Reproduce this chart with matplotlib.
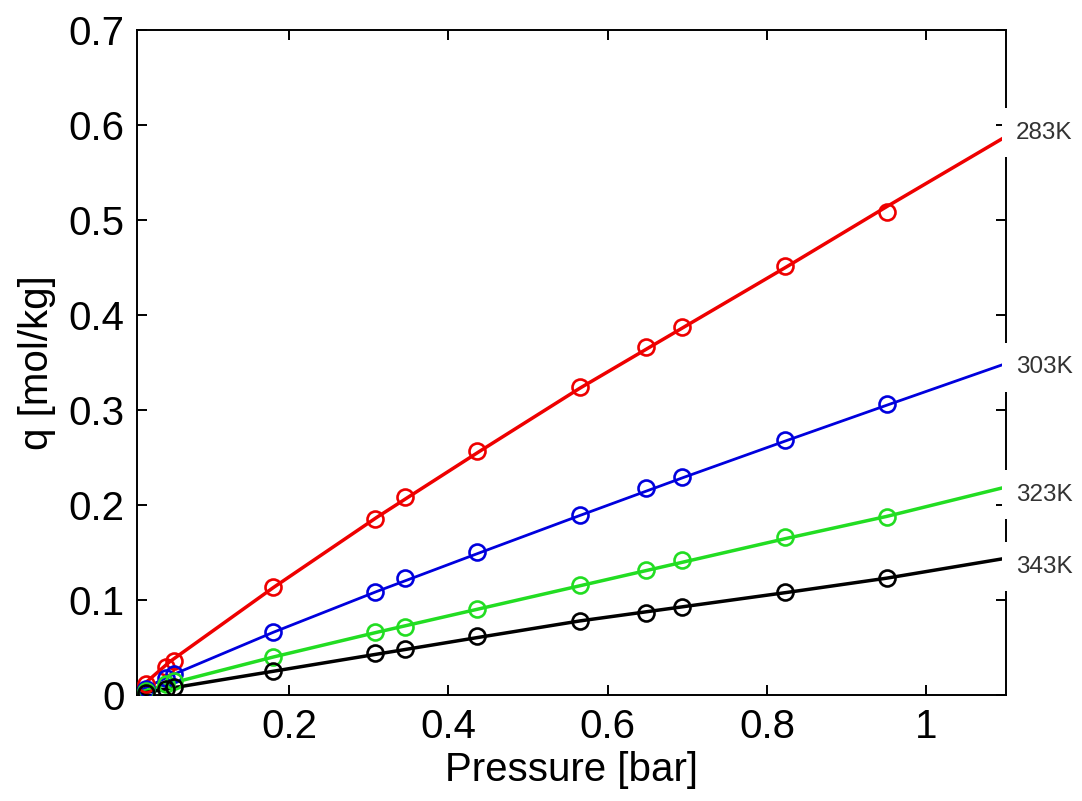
import matplotlib
matplotlib.use("Agg")
import matplotlib.pyplot as plt

plt.rcParams['font.family'] = ['Liberation Sans', 'DejaVu Sans']

# measured uptake (circles)
pressure = [0.02, 0.045, 0.055, 0.18, 0.308, 0.345, 0.436, 0.565, 0.648, 0.693, 0.822, 0.95]
q_283 = [0.012, 0.030, 0.036, 0.114, 0.185, 0.208, 0.257, 0.324, 0.366, 0.387, 0.452, 0.508]
q_303 = [0.006, 0.018, 0.022, 0.066, 0.108, 0.123, 0.151, 0.189, 0.218, 0.230, 0.268, 0.306]
q_323 = [0.004, 0.012, 0.015, 0.040, 0.066, 0.072, 0.091, 0.116, 0.132, 0.142, 0.166, 0.187]
q_343 = [0.002, 0.006, 0.008, 0.025, 0.044, 0.048, 0.062, 0.078, 0.086, 0.093, 0.108, 0.123]

# fitted isotherms (lines)
fit_p = [0.009, 0.05, 0.18, 0.31, 0.44, 0.565, 0.695, 0.825, 0.95, 1.1]
fit_283 = [0.005, 0.035, 0.113, 0.187, 0.257, 0.323, 0.387, 0.451, 0.514, 0.588]
fit_303 = [0.003, 0.020, 0.066, 0.109, 0.150, 0.189, 0.229, 0.268, 0.305, 0.349]
fit_323 = [0.002, 0.012, 0.040, 0.066, 0.091, 0.115, 0.140, 0.165, 0.188, 0.219]
fit_343 = [0.001, 0.007, 0.025, 0.043, 0.061, 0.078, 0.093, 0.108, 0.123, 0.144]

temps = ['283K', '303K', '323K', '343K']
label_y = [0.592, 0.345, 0.211, 0.135]
colors = ['#ee0000', '#0000dd', '#22dd22', '#000000']

fig = plt.figure(figsize=(10.82, 8.01), dpi=100)
ax = fig.add_axes([0.1266, 0.1323, 0.8032, 0.8302])

series = [(q_283, fit_283), (q_303, fit_303), (q_323, fit_323), (q_343, fit_343)]
for (q, fit), c in zip(series, colors):
    lw = 2.0 if c == '#0000dd' else 2.5
    ax.plot(fit_p, fit, color=c, lw=lw, zorder=2)
    ax.plot(pressure, q, 'o', mfc='none', mec=c, ms=11.5, mew=1.9, zorder=3)

ax.set_xlim(0.009, 1.1)
ax.set_ylim(0, 0.7)
ax.set_xticks([0.2, 0.4, 0.6, 0.8, 1.0])
ax.set_xticklabels(['0.2', '0.4', '0.6', '0.8', '1'])
ax.set_yticks([0, 0.1, 0.2, 0.3, 0.4, 0.5, 0.6, 0.7])
ax.set_yticklabels(['0', '0.1', '0.2', '0.3', '0.4', '0.5', '0.6', '0.7'])
ax.tick_params(direction='in', length=7, width=1.4, labelsize=29,
               top=True, right=True, pad=9)
for s in ax.spines.values():
    s.set_linewidth(1.4)

ax.set_xlabel('Pressure [bar]', fontsize=29, labelpad=4)
ax.set_ylabel('q [mol/kg]', fontsize=29, labelpad=9)

# temperature tags just outside the right edge
trans = ax.get_yaxis_transform()
for t, y in zip(temps, label_y):
    ax.text(1.011, y, t, transform=trans, ha='left', va='center', fontsize=17.5,
            color='#333333', clip_on=False, zorder=5,
            bbox=dict(boxstyle='square,pad=0.55', fc='white', ec='none'))

fig.savefig('out.png', dpi=100)
